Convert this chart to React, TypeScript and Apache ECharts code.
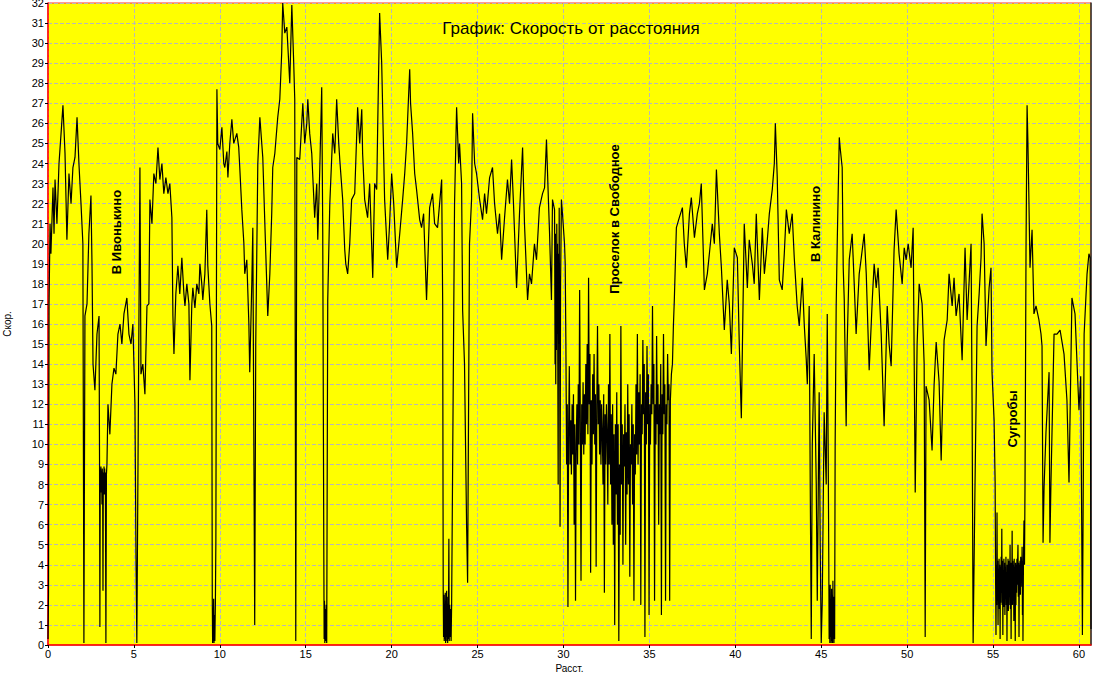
import { useEffect, useRef } from "react";
import * as echarts from "echarts";

const TRACK_0_10: [number, number][] = [
  [0.00,0.3],[0.03,2.6],[0.06,17.0],[0.12,21.0],[0.17,19.5],[0.29,22.8],[0.35,20.5],[0.41,23.2],[0.52,21.0],[0.64,24.0],
  [0.76,25.5],[0.87,26.9],[0.99,24.5],[1.10,20.2],[1.22,23.5],[1.34,22.0],[1.45,23.8],[1.57,24.3],[1.69,26.3],[1.80,24.0],
  [1.92,22.0],[2.03,20.0],[2.09,0.1],[2.15,16.4],[2.27,17.0],[2.38,20.5],[2.50,22.4],[2.56,19.0],[2.62,14.0],[2.73,12.7],
  [2.85,15.5],[2.97,16.4],[3.00,9.0],[3.02,0.9],[3.04,8.8],[3.06,7.8],[3.08,8.9],[3.10,7.6],[3.12,8.7],[3.14,7.0],
  [3.16,8.8],[3.18,7.7],[3.20,2.7],[3.22,8.6],[3.24,7.8],[3.26,8.9],[3.28,7.5],[3.30,8.8],[3.32,7.7],[3.34,8.6],
  [3.37,0.1],[3.40,8.5],[3.43,9.0],
  [3.49,12.0],[3.60,10.5],[3.72,13.0],[3.84,13.8],[3.95,13.5],[4.07,15.5],[4.19,16.0],[4.30,15.0],[4.42,16.5],[4.59,17.3],
  [4.71,15.5],[4.83,15.0],[4.94,16.0],[5.06,12.0],[5.12,4.5],[5.17,0.1],[5.23,8.0],[5.35,23.8],[5.41,13.5],[5.52,14.0],
  [5.64,12.5],[5.76,16.9],[5.87,17.0],[5.93,22.2],[6.05,21.0],[6.16,23.5],[6.28,23.0],[6.40,24.8],[6.51,23.2],[6.63,24.0],
  [6.74,22.5],[6.86,23.3],[6.98,22.5],[7.09,23.0],[7.21,21.3],[7.27,16.4],[7.33,14.5],[7.44,17.5],[7.56,18.9],[7.67,17.5],
  [7.79,19.3],[7.91,17.5],[7.97,16.9],[8.08,18.0],[8.20,17.0],[8.26,13.2],[8.37,17.0],[8.43,17.8],[8.55,16.8],[8.66,18.0],
  [8.78,17.5],[8.84,19.0],[8.95,18.0],[9.01,17.2],[9.13,18.5],[9.24,21.7],[9.30,18.9],[9.42,17.0],[9.53,15.9],[9.56,2.3],
  [9.58,0.1],[9.60,1.8],[9.62,0.2],[9.64,2.3],[9.66,0.1],[9.68,1.5],[9.71,0.2],[9.74,2.0],[9.77,5.2],[9.83,27.7],[9.88,25.0],
];

const TRACK_10_20: [number, number][] = [
  [10.00,24.7],[10.12,25.8],[10.23,24.0],[10.29,23.8],[10.41,24.6],[10.47,23.3],[10.58,25.0],[10.70,26.2],[10.81,25.0],[10.99,25.5],
  [11.10,24.8],[11.16,23.8],[11.28,21.7],[11.40,20.0],[11.45,18.5],[11.57,19.2],[11.69,16.0],[11.74,13.6],[11.86,18.0],[11.92,20.8],
  [12.03,1.0],[12.09,15.0],[12.21,24.0],[12.33,26.3],[12.44,25.0],[12.50,24.3],[12.62,21.0],[12.79,16.4],[12.91,18.5],[13.02,21.5],
  [13.08,23.8],[13.20,24.5],[13.37,26.3],[13.49,27.2],[13.60,29.5],[13.66,32.0],[13.78,30.5],[13.90,30.8],[14.01,29.0],[14.07,28.0],
  [14.19,31.9],[14.30,29.0],[14.36,27.2],[14.42,0.2],[14.48,24.3],[14.65,24.2],[14.83,27.0],[14.94,25.0],[15.06,26.0],[15.12,27.2],
  [15.23,25.5],[15.35,24.5],[15.52,21.3],[15.64,23.0],[15.70,20.2],[15.81,23.5],[15.93,27.8],[15.99,20.5],[16.05,5.0],[16.07,0.3],
  [16.09,2.2],[16.11,0.1],[16.13,1.8],[16.16,0.2],[16.19,2.0],[16.22,0.1],[16.28,17.2],[16.40,22.0],[16.57,25.5],[16.69,24.5],
  [16.80,27.2],[16.92,25.0],[16.98,24.2],[17.15,22.2],[17.27,19.7],[17.33,19.0],[17.44,18.5],[17.56,20.0],[17.67,22.2],[17.85,22.5],
  [18.02,26.8],[18.14,25.0],[18.26,26.7],[18.31,24.5],[18.43,22.2],[18.60,21.3],[18.72,23.0],[18.90,18.3],[19.01,23.0],[19.13,22.7],
  [19.19,26.0],[19.30,31.5],[19.42,29.0],[19.59,22.2],[19.77,19.2],[19.88,21.0],
];

const TRACK_20_30: [number, number][] = [
  [20.00,23.5],[20.12,22.0],[20.29,18.8],[20.47,20.5],[20.64,22.2],[20.76,23.5],[20.87,25.0],[21.05,28.7],[21.10,27.0],[21.22,25.5],
  [21.34,23.5],[21.45,22.7],[21.63,21.2],[21.74,20.8],[21.86,21.5],[22.03,17.2],[22.21,21.8],[22.38,22.5],[22.50,21.0],[22.67,20.8],
  [22.79,22.0],[22.91,23.2],[22.97,17.0],[23.00,2.8],[23.02,0.4],[23.04,2.5],[23.06,0.2],[23.08,1.9],[23.10,0.3],[23.12,2.6],
  [23.14,0.1],[23.16,2.2],[23.18,0.4],[23.20,2.7],[23.22,0.2],[23.24,1.6],[23.26,0.1],[23.28,2.4],[23.30,0.3],[23.33,5.3],
  [23.35,0.2],[23.38,2.0],[23.40,0.4],[23.43,1.8],[23.46,0.2],[23.49,2.0],[23.60,15.0],[23.66,22.0],[23.78,26.8],[23.90,24.0],
  [23.95,25.0],[24.07,23.0],[24.13,16.7],[24.24,14.0],[24.36,6.0],[24.42,3.1],[24.53,20.0],[24.65,22.2],[24.71,26.5],[24.83,24.0],
  [24.94,23.5],[25.12,22.2],[25.29,21.2],[25.41,22.5],[25.52,21.5],[25.70,23.3],[25.87,23.8],[25.99,22.0],[26.16,20.5],[26.28,21.5],
  [26.40,19.2],[26.57,21.3],[26.74,23.2],[26.86,22.0],[26.98,24.2],[27.09,22.0],[27.27,17.8],[27.44,21.5],[27.62,24.8],[27.73,21.0],
  [27.91,17.2],[28.02,18.5],[28.14,18.0],[28.31,20.0],[28.43,19.2],[28.60,21.8],[28.78,22.5],[28.90,22.8],[29.01,25.2],[29.13,22.0],
  [29.19,20.5],[29.30,17.2],[29.36,22.2],[29.48,21.7],[29.51,14.0],[29.53,20.5],[29.55,13.0],[29.57,19.5],[29.59,14.7],[29.61,21.0],
  [29.63,15.5],[29.65,20.0],[29.67,14.0],[29.69,8.0],[29.71,19.5],[29.73,15.0],[29.75,21.8],[29.78,14.0],[29.80,5.9],[29.83,18.0],
  [29.88,22.2],[29.94,21.5],
];

const TRACK_30_40: [number, number][] = [
  [30.06,20.0],[30.10,19.0],[30.14,15.0],[30.18,9.0],[30.22,12.0],[30.26,1.9],[30.30,11.0],[30.34,13.9],[30.38,9.0],[30.42,11.2],
  [30.46,8.5],[30.50,12.0],[30.54,9.5],[30.58,12.5],[30.62,6.0],[30.66,11.0],[30.70,2.2],[30.74,10.0],[30.78,12.0],[30.82,9.0],
  [30.86,13.0],[30.90,10.0],[30.94,17.7],[30.98,11.0],[31.02,3.2],[31.06,12.0],[31.10,10.0],[31.14,13.1],[31.18,9.5],[31.22,12.5],
  [31.26,10.0],[31.30,14.0],[31.34,11.0],[31.38,15.0],[31.42,10.5],[31.46,18.3],[31.50,12.0],[31.54,14.5],[31.58,3.6],[31.62,12.2],
  [31.66,9.0],[31.70,13.5],[31.74,10.5],[31.78,14.5],[31.82,10.0],[31.86,12.5],[31.90,3.9],[31.94,12.0],[31.98,15.9],[32.02,11.0],
  [32.06,13.0],[32.10,9.5],[32.14,12.2],[32.18,9.0],[32.22,12.0],[32.26,10.6],[32.30,8.0],[32.34,12.5],[32.38,2.6],[32.42,11.5],
  [32.46,9.0],[32.50,12.0],[32.54,10.6],[32.58,7.0],[32.62,13.0],[32.66,9.0],[32.70,15.5],[32.74,8.0],[32.78,11.5],[32.82,6.0],
  [32.86,12.0],[32.90,5.0],[32.94,10.5],[32.98,1.0],[33.02,11.0],[33.06,7.5],[33.10,12.6],[33.14,6.0],[33.18,11.0],[33.22,0.2],
  [33.26,9.0],[33.30,5.5],[33.34,15.9],[33.38,8.0],[33.42,11.0],[33.46,4.0],[33.50,10.5],[33.54,8.9],[33.58,12.0],[33.62,5.0],
  [33.66,10.6],[33.70,7.5],[33.74,13.0],[33.78,8.0],[33.82,11.5],[33.86,3.4],[33.90,10.0],[33.94,9.0],[33.98,12.0],[34.02,7.0],
  [34.06,11.0],[34.10,2.2],[34.14,10.5],[34.18,8.5],[34.22,13.0],[34.26,9.5],[34.30,15.5],[34.34,9.0],[34.38,12.6],[34.42,10.0],
  [34.46,13.5],[34.50,2.0],[34.54,12.0],[34.58,10.5],[34.62,15.2],[34.66,11.5],[34.70,14.0],[34.74,0.4],[34.78,12.6],[34.82,10.0],
  [34.86,14.9],[34.90,11.0],[34.94,13.5],[34.98,1.5],[35.02,12.0],[35.06,10.0],[35.10,13.0],[35.14,11.5],[35.18,16.9],[35.22,12.0],
  [35.26,14.0],[35.30,2.2],[35.34,12.0],[35.38,10.0],[35.42,15.4],[35.46,11.0],[35.50,13.0],[35.54,6.0],[35.58,12.0],[35.62,10.5],
  [35.66,14.0],[35.70,1.5],[35.74,12.5],[35.78,10.5],[35.82,15.5],[35.86,11.5],[35.90,13.0],[35.94,2.2],[35.98,12.0],[36.02,11.0],
  [36.06,14.5],[36.10,12.2],[36.14,13.0],[36.18,2.2],[36.22,12.2],[36.28,13.5],[36.34,14.0],[36.40,16.0],[36.45,17.2],[36.57,20.8],
  [36.74,21.3],[36.92,21.8],[37.03,20.0],[37.15,18.8],[37.33,21.5],[37.44,22.3],[37.62,20.3],[37.79,21.5],[37.91,22.0],[38.02,23.0],
  [38.20,17.7],[38.37,18.5],[38.49,19.5],[38.66,21.0],[38.78,20.0],[38.90,23.7],[39.07,20.5],[39.19,18.8],[39.36,15.7],[39.53,18.2],
  [39.65,17.0],[39.77,14.5],[39.94,19.8],
];

const TRACK_40_50: [number, number][] = [
  [40.12,19.3],[40.23,15.0],[40.35,11.3],[40.52,21.0],[40.70,17.8],[40.81,20.2],[40.99,19.0],[41.10,18.0],[41.22,21.5],[41.40,17.2],
  [41.57,20.8],[41.69,18.5],[41.80,19.5],[41.98,21.5],[42.15,22.7],[42.27,24.0],[42.33,26.0],[42.44,23.3],[42.56,18.2],[42.73,17.7],
  [42.85,19.5],[42.97,21.7],[43.14,20.5],[43.31,21.5],[43.43,19.3],[43.60,16.9],[43.72,15.9],[43.90,18.3],[44.01,16.0],[44.13,14.2],
  [44.19,13.0],[44.30,16.9],[44.36,8.0],[44.42,0.3],[44.48,10.0],[44.59,14.5],[44.71,8.0],[44.77,2.2],[44.88,12.6],[44.94,5.0],
  [45.00,0.1],[45.06,2.2],[45.17,11.6],[45.29,8.0],[45.35,16.5],[45.41,9.0],[45.44,4.2],[45.46,0.3],[45.48,2.6],[45.50,0.1],
  [45.52,3.0],[45.54,0.4],[45.56,2.2],[45.58,0.1],[45.60,2.8],[45.62,0.2],[45.64,2.5],[45.66,0.1],[45.68,3.2],[45.70,0.3],
  [45.72,2.4],[45.74,0.1],[45.76,2.0],[45.78,0.3],[45.81,10.0],[45.87,16.9],[45.93,20.0],[46.05,25.3],[46.10,24.8],[46.22,23.8],
  [46.28,18.8],[46.34,17.2],[46.45,10.9],[46.51,15.0],[46.63,19.2],[46.80,20.5],[46.92,18.0],[47.03,15.5],[47.21,18.5],[47.33,19.3],
  [47.50,20.5],[47.62,18.5],[47.79,13.7],[47.91,16.0],[47.97,17.2],[48.08,19.0],[48.20,17.8],[48.31,18.8],[48.49,15.5],[48.66,10.9],
  [48.84,16.9],[48.95,15.0],[49.07,13.9],[49.24,19.7],[49.36,21.7],[49.53,19.5],[49.71,18.0],[49.83,19.8],[49.94,19.2],
];

const TRACK_50_END: [number, number][] = [
  [50.06,20.0],[50.23,18.8],[50.35,20.8],[50.47,7.6],[50.58,15.0],[50.70,18.0],[50.87,17.0],[50.99,14.0],[51.05,0.4],[51.10,12.9],
  [51.28,12.2],[51.45,9.7],[51.57,13.0],[51.69,15.1],[51.86,13.1],[51.98,9.2],[52.15,15.2],[52.33,16.2],[52.44,18.5],[52.62,16.9],
  [52.73,18.3],[52.85,16.4],[53.02,17.5],[53.20,14.2],[53.37,19.8],[53.49,16.2],[53.60,18.0],[53.72,20.0],[53.78,12.0],[53.84,0.1],
  [53.95,8.0],[54.07,15.9],[54.19,17.5],[54.30,19.3],[54.36,21.5],[54.48,20.0],[54.59,14.9],[54.77,17.8],[54.88,18.8],[54.94,13.6],
  [55.06,11.2],[55.12,8.1],[55.15,3.0],[55.17,0.5],[55.19,4.0],[55.21,2.0],[55.23,6.6],[55.25,2.5],[55.27,4.2],[55.29,1.0],
  [55.31,3.8],[55.33,2.2],[55.35,4.3],[55.37,1.8],[55.39,4.0],[55.41,0.3],[55.43,3.9],[55.45,2.1],[55.47,4.4],[55.49,2.6],
  [55.51,5.8],[55.53,2.0],[55.55,4.2],[55.57,0.5],[55.59,3.7],[55.61,2.4],[55.63,4.3],[55.65,1.9],[55.67,4.1],[55.69,1.5],
  [55.71,3.9],[55.73,2.3],[55.75,4.4],[55.77,2.0],[55.79,3.6],[55.81,0.2],[55.83,4.0],[55.85,2.2],[55.87,4.3],[55.89,1.7],
  [55.91,4.2],[55.93,2.0],[55.95,3.8],[55.97,2.5],[55.99,5.0],[56.01,1.8],[56.03,4.1],[56.05,0.3],[56.07,3.9],[56.09,2.4],
  [56.11,5.7],[56.13,2.0],[56.15,4.2],[56.17,2.5],[56.19,4.0],[56.21,1.2],[56.23,4.3],[56.25,2.2],[56.27,3.9],[56.29,0.2],
  [56.31,4.1],[56.33,2.0],[56.35,4.0],[56.37,2.6],[56.39,4.3],[56.41,3.0],[56.43,4.2],[56.45,5.0],[56.47,2.4],[56.49,4.1],
  [56.51,0.4],[56.53,4.0],[56.55,2.8],[56.57,4.2],[56.59,2.5],[56.61,4.4],[56.63,3.5],[56.65,4.3],[56.67,2.9],[56.69,4.9],
  [56.71,1.5],[56.73,4.2],[56.74,0.2],[56.77,4.3],[56.80,6.2],[56.83,4.0],[56.86,8.0],[56.92,20.0],[56.98,26.9],[57.03,25.0],
  [57.09,22.0],[57.15,18.8],[57.27,20.7],[57.38,16.5],[57.50,16.9],[57.67,16.2],[57.79,15.5],[57.85,14.9],[57.91,5.1],[57.97,7.9],
  [58.08,10.6],[58.26,13.6],[58.31,5.1],[58.37,8.1],[58.55,15.5],[58.72,15.5],[58.90,15.7],[59.13,14.5],[59.30,12.2],[59.42,8.1],
  [59.59,17.3],[59.77,16.5],[60.00,11.7],[60.10,13.4],[60.15,7.2],[60.20,0.5],[60.30,15.5],[60.47,18.5],[60.58,19.5],[60.65,19.3],
  [60.70,0.8],
];

const TRACKS = [TRACK_0_10, TRACK_10_20, TRACK_20_30, TRACK_30_40, TRACK_40_50, TRACK_50_END];

const X_MIN = 0;
const X_MAX = 60.7;
const X_STEP = 5;
const Y_MIN = 0;
const Y_MAX = 32;
const Y_STEP = 1;

const TITLE = "График: Скорость от расстояния";
const X_NAME = "Расст.";
const Y_NAME = "Скор.";
const NOTES = ["В Ивонькино", "Проселок в Свободное", "В Калинино", "Сугробы"];

export default function App() {
  const ref = useRef<HTMLDivElement>(null);

  useEffect(() => {
    if (!ref.current) return;
    const chart = echarts.init(ref.current, null, { renderer: "svg" });
    const data = TRACKS.flat();
    const font = "'Liberation Sans', Arial, sans-serif";
    const notePos = [
      [116, 232],
      [614, 219],
      [815, 224],
      [1012, 419],
    ];
    chart.setOption({
      animation: false,
      backgroundColor: "#ffffff",
      grid: {
        left: 48,
        right: 2,
        top: 3,
        bottom: 28,
        outerBoundsMode: "none",
        containLabel: false,
        show: true,
        backgroundColor: "#ffff00",
        borderColor: "#ff3030",
        borderWidth: 1,
      },
      xAxis: {
        type: "value",
        min: X_MIN,
        max: X_MAX,
        interval: X_STEP,
        name: X_NAME,
        nameLocation: "middle",
        nameGap: 12,
        nameTextStyle: { fontFamily: font, fontSize: 10, color: "#000" },
        axisLine: { lineStyle: { color: "#ff0000", width: 1.5 } },
        axisTick: { show: true, length: 3, lineStyle: { color: "#000" } },
        axisLabel: { fontFamily: font, fontSize: 11, color: "#000", margin: 3, showMaxLabel: false },
        splitLine: { show: true, lineStyle: { color: "#b8b8b8", type: [4, 2], width: 1 } },
      },
      yAxis: [
        {
          type: "value",
          min: Y_MIN,
          max: Y_MAX,
          interval: Y_STEP,
          name: Y_NAME,
          nameLocation: "middle",
          nameRotate: 90,
          nameGap: 36,
          nameTextStyle: { fontFamily: font, fontSize: 10, color: "#000" },
          axisLine: { lineStyle: { color: "#ff0000", width: 1.5 } },
          axisTick: { show: true, length: 3, lineStyle: { color: "#000" } },
          axisLabel: { fontFamily: font, fontSize: 11, color: "#000", margin: 4 },
          splitLine: { show: true, lineStyle: { color: "#b8b8b8", type: [4, 2], width: 1 } },
        },
        {
          type: "value",
          position: "right",
          min: Y_MIN,
          max: Y_MAX,
          interval: Y_STEP,
          axisLine: { show: true, lineStyle: { color: "#303030", width: 1.5 } },
          axisTick: { show: false },
          axisLabel: { show: false },
          splitLine: { show: false },
        },
      ],
      series: [
        {
          type: "line",
          data,
          showSymbol: false,
          symbol: "none",
          lineStyle: { color: "#000000", width: 1.2 },
          z: 3,
        },
      ],
      graphic: [
        {
          type: "text",
          x: 571,
          y: 28,
          z: 10,
          style: {
            text: TITLE,
            fontFamily: font,
            fontSize: 17,
            fill: "#000",
            align: "center",
            verticalAlign: "middle",
          },
        },
        ...NOTES.map((t, i) => ({
          type: "text",
          x: notePos[i][0],
          y: notePos[i][1],
          rotation: Math.PI / 2,
          z: 10,
          style: {
            text: t,
            fontFamily: font,
            fontSize: 13,
            fontWeight: "bold",
            fill: "#000",
            align: "center",
            verticalAlign: "middle",
          },
        })),
      ],
    });
    return () => chart.dispose();
  }, []);

  return (
    <div
      ref={ref}
      style={{ position: "fixed", left: 0, top: 0, width: 1093, height: 673, background: "#fff" }}
    />
  );
}
